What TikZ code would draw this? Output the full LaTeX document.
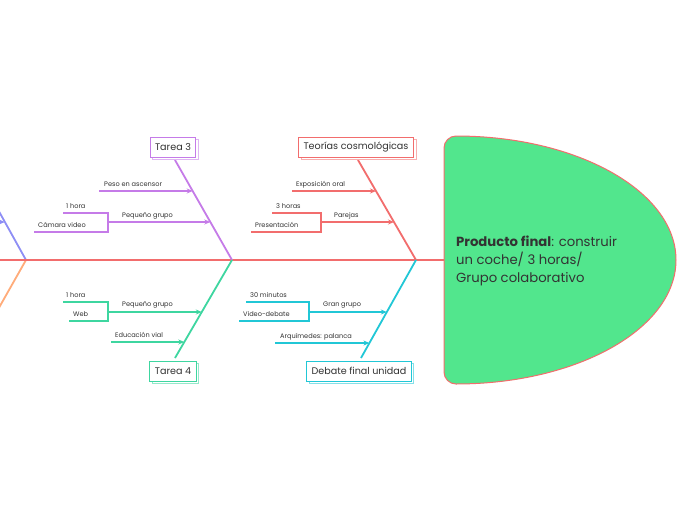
\documentclass[tikz,border=0pt]{standalone}
\usepackage{fontspec}
\setmainfont{Poppins}
\usetikzlibrary{arrows.meta,shadows}
\definecolor{cred}{HTML}{F26D6D}
\definecolor{cpurple}{HTML}{C57BE8}
\definecolor{cteal}{HTML}{3ED6A0}
\definecolor{ccyan}{HTML}{21C7D6}
\definecolor{cblue}{HTML}{8E8EF5}
\definecolor{corange}{HTML}{FFAC7A}
\definecolor{cfill}{HTML}{52E68D}
\definecolor{txt}{HTML}{333333}
\tikzset{
  bone/.style={draw=#1, line width=1.8},
  sub/.style={draw=#1, line width=1.3, -{Stealth[length=6pt,width=5pt]}},
  plain/.style={draw=#1, line width=1.3},
  lbl/.style={font=\fontsize{6.6}{8}\selectfont, text=txt, inner sep=0, anchor=base west},
  topicbox/.style={draw=#1, line width=1, fill=white, text=txt,
    font=\fontsize{9.6}{12}\selectfont, inner xsep=5, inner ysep=0,
    minimum height=20,
    general shadow={draw=#1!55, fill=white, line width=1, shadow xshift=2.5pt, shadow yshift=-2.5pt}}
}
\begin{document}
\begin{tikzpicture}[x=1pt,y=-1pt]
\useasboundingbox[fill=white] (0,0) rectangle (697,520);
\begin{scope}
\clip (0,0) rectangle (697,520);
% spine points
\coordinate (s0) at (0,260);
\coordinate (j1) at (26,260);
\coordinate (j2) at (232,260);
\coordinate (j3) at (416,260);
\coordinate (pfw) at (444,260);
% left partial bones
\coordinate (lb) at (-4,206);
\coordinate (lo) at (-4,313);
\draw[bone=cblue] (lb) -- (j1);
\draw[bone=corange] (j1) -- (lo);
\coordinate (lbs) at (-2,222);
\coordinate (lba) at (4.8,222);
\draw[sub=cblue] (lbs) -- (lba);
\end{scope}
% spine
\draw[cred, line width=2.4] (s0) -- (pfw);
% main shape
\draw[cred, fill=cfill, line width=1]
  (456,136) .. controls (577.5,136) and (676,191.5) .. (676,260)
  .. controls (676,328.5) and (577.5,384) .. (456,384)
  .. controls (449.4,384) and (444,378.6) .. (444,372)
  -- (444,148) .. controls (444,141.4) and (449.4,136) .. (456,136) -- cycle;
\node[anchor=west, align=left, text=txt, font=\fontsize{13.2}{18}\selectfont, inner sep=0] (pft) at (456,261)
  {\textbf{Producto final}: construir\\un coche/ 3 horas/\\Grupo colaborativo};

% bone tops
\coordinate (t3top) at (175,160);
\coordinate (t4top) at (175,358);
\coordinate (tctop) at (358,160);
\coordinate (tdtop) at (361,358);
\draw[bone=cpurple] (t3top) -- (j2);
\draw[bone=cteal] (j2) -- (t4top);
\draw[bone=cred] (tctop) -- (j3);
\draw[bone=ccyan] (j3) -- (tdtop);

% boxes
\node[topicbox=cpurple] (t3) at (173,147) {Tarea 3};
\node[topicbox=cteal] (t4) at (173,371) {Tarea 4};
\node[topicbox=cred] (tc) at (356,147) {Teorías cosmológicas};
\node[topicbox=ccyan] (td) at (359,371) {Debate final unidad};

% ---- Tarea 3 ----
\coordinate (p1s) at (99,191);   \coordinate (p1e) at (192.7,191);
\draw[sub=cpurple] (p1s) -- (p1e);
\node[lbl] (l1) at (104,186) {Peso en ascensor};
\coordinate (p2s) at (108,222);  \coordinate (p2e) at (210.3,222);
\draw[sub=cpurple] (p2s) -- (p2e);
\node[lbl] (l2) at (122,217) {Pequeño grupo};
\coordinate (b1a) at (63,213); \coordinate (b1c) at (34,232);
\draw[plain=cpurple] (b1a) -- (p2s |- b1a) -- (p2s |- b1c) -- (b1c);
\node[lbl] (l3) at (66,208) {1 hora};
\node[lbl] (l4) at (38,227.5) {Cámara video};

% ---- Tarea 4 ----
\coordinate (q1s) at (108,312);  \coordinate (q1e) at (201.8,312);
\draw[sub=cteal] (q1s) -- (q1e);
\node[lbl] (m1) at (122,306) {Pequeño grupo};
\coordinate (b2a) at (63,302); \coordinate (b2c) at (69,321);
\draw[plain=cteal] (b2a) -- (q1s |- b2a) -- (q1s |- b2c) -- (b2c);
\node[lbl] (m2) at (66,297) {1 hora};
\node[lbl] (m3) at (73,316) {Web};
\coordinate (q2s) at (111,342);  \coordinate (q2e) at (184.3,342);
\draw[sub=cteal] (q2s) -- (q2e);
\node[lbl] (m4) at (115,337.5) {Educación vial};

% ---- Teorías cosmológicas ----
\coordinate (r1s) at (292,191);  \coordinate (r1e) at (376,191);
\draw[sub=cred] (r1s) -- (r1e);
\node[lbl] (n1) at (296,186) {Exposición oral};
\coordinate (r2s) at (321,222);  \coordinate (r2e) at (394,222);
\draw[sub=cred] (r2s) -- (r2e);
\node[lbl] (n2) at (334,217) {Parejas};
\coordinate (b3a) at (272,213); \coordinate (b3c) at (251,232);
\draw[plain=cred] (b3a) -- (r2s |- b3a) -- (r2s |- b3c) -- (b3c);
\node[lbl] (n3) at (276,208) {3 horas};
\node[lbl] (n4) at (255,227.5) {Presentación};

% ---- Debate final unidad ----
\coordinate (u1s) at (309,312);  \coordinate (u1e) at (386.8,312);
\draw[sub=ccyan] (u1s) -- (u1e);
\node[lbl] (o1) at (323,306) {Gran grupo};
\coordinate (b4a) at (246,302); \coordinate (b4c) at (239,321);
\draw[plain=ccyan] (b4a) -- (u1s |- b4a) -- (u1s |- b4c) -- (b4c);
\node[lbl] (o2) at (250,297) {30 minutos};
\node[lbl] (o3) at (243,316) {Video-debate};
\coordinate (u2s) at (275,343);  \coordinate (u2e) at (369.4,343);
\draw[sub=ccyan] (u2s) -- (u2e);
\node[lbl] (o4) at (280,338) {Arquímedes: palanca};
\end{tikzpicture}
\end{document}
